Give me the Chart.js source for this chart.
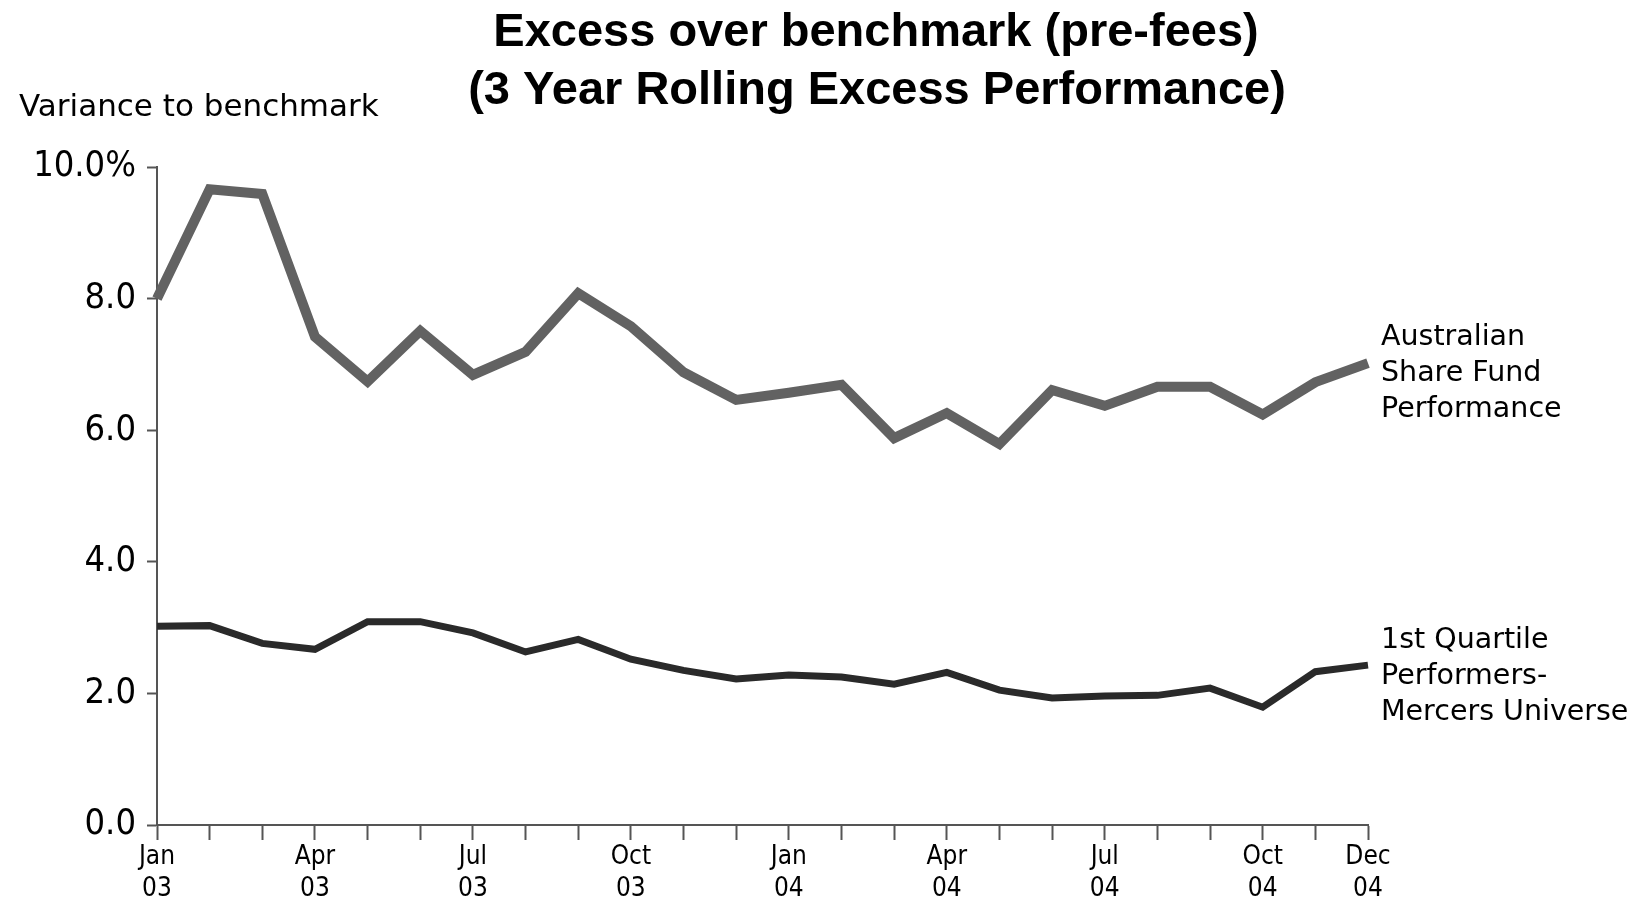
<!DOCTYPE html>
<html>
<head>
<meta charset="utf-8">
<title>Excess over benchmark</title>
<script src="https://cdn.jsdelivr.net/npm/chart.js@4.4.1/dist/chart.umd.min.js"></script>
<style>
    body { margin: 0; background: #fff; }
    canvas { display: block; }
</style>
</head>
<body>
<canvas id="myChart" width="1637" height="900"></canvas>
<script>
const months = ['Jan 03', 'Feb 03', 'Mar 03', 'Apr 03', 'May 03', 'Jun 03', 'Jul 03', 'Aug 03', 'Sep 03', 'Oct 03', 'Nov 03', 'Dec 03',
    'Jan 04', 'Feb 04', 'Mar 04', 'Apr 04', 'May 04', 'Jun 04', 'Jul 04', 'Aug 04', 'Sep 04', 'Oct 04', 'Nov 04', 'Dec 04']
const shownTicks = ['Jan 03', 'Apr 03', 'Jul 03', 'Oct 03', 'Jan 04', 'Apr 04', 'Jul 04', 'Oct 04', 'Dec 04']
const fundValues = [8.0, 9.66, 9.59, 7.42, 6.74, 7.51, 6.84, 7.19, 8.08, 7.58, 6.88, 6.46,
    6.57, 6.69, 5.88, 6.26, 5.79, 6.61, 6.37, 6.66, 6.66, 6.24, 6.73, 7.02]
const quartileValues = [3.02, 3.03, 2.76, 2.67, 3.09, 3.09, 2.92, 2.63, 2.82, 2.52, 2.35, 2.22,
    2.28, 2.25, 2.14, 2.32, 2.05, 1.93, 1.96, 1.97, 2.08, 1.79, 2.33, 2.43]
const seriesNames = [
    ['Australian', 'Share Fund', 'Performance'],
    ['1st Quartile', 'Performers-', 'Mercers Universe'],
]
const titleLines = ['Excess over benchmark (pre-fees)', '(3 Year Rolling Excess Performance)']
const yAxisTitle = 'Variance to benchmark'

const ctx = document.getElementById('myChart')

// titles and end-of-line labels
const textPlugin = {
    id: 'textPlugin',
    afterDraw: (chart) => {
        const c = chart.ctx
        c.save()
        c.fillStyle = '#000'
        c.textBaseline = 'middle'

        c.font = 'bold 47px "Liberation Sans", Arial, sans-serif'
        c.textAlign = 'center'
        c.fillText(titleLines[0], 876, 33)
        c.fillText(titleLines[1], 877, 91)

        c.font = '31px "DejaVu Sans", Verdana, sans-serif'
        c.textAlign = 'left'
        c.fillText(yAxisTitle, 19, 108)

        c.font = '28.5px "DejaVu Sans", Verdana, sans-serif'
        chart.data.datasets.forEach((ds, i) => {
            const pts = chart.getDatasetMeta(i).data
            const last = pts[pts.length - 1]
            seriesNames[i].forEach((line, j) => {
                c.fillText(line, last.x + 13, last.y + 11 + (j - 1) * 36)
            })
        })
        c.restore()
    }
}

const config = {
    type: 'line',
    data: {
        labels: months,
        datasets: [
            {
                label: seriesNames[0].join(' '),
                data: fundValues,
                borderColor: '#626262',
                borderWidth: 10,
                borderJoinStyle: 'miter',
                pointRadius: 0,
                tension: 0,
            },
            {
                label: seriesNames[1].join(' '),
                data: quartileValues,
                borderColor: '#2a2a2a',
                borderWidth: 7,
                borderJoinStyle: 'miter',
                pointRadius: 0,
                tension: 0,
            },
        ],
    },
    options: {
        responsive: false,
        animation: false,
        layout: {
            padding: { top: 167, right: 269, left: 0, bottom: 0 },
        },
        plugins: {
            legend: { display: false },
            title: { display: false },
            tooltip: { enabled: false },
        },
        scales: {
            x: {
                type: 'category',
                offset: false,
                afterFit: (scale) => { scale.height = 75 },
                grid: {
                    drawOnChartArea: false,
                    tickLength: 15,
                    tickWidth: 2,
                    color: '#555',
                },
                border: { color: '#555', width: 2 },
                ticks: {
                    autoSkip: false,
                    maxRotation: 0,
                    padding: 2,
                    color: '#000',
                    font: { family: '"DejaVu Sans Condensed", "DejaVu Sans", sans-serif', size: 26, lineHeight: 1.2 },
                    callback: (value, index) => shownTicks.includes(months[index]) ? months[index].split(' ') : '',
                },
            },
            y: {
                min: 0,
                max: 10,
                afterFit: (scale) => { scale.width = 157 },
                grid: {
                    drawOnChartArea: false,
                    tickLength: 10,
                    tickWidth: 2,
                    color: '#555',
                },
                border: { color: '#555', width: 2 },
                ticks: {
                    stepSize: 2,
                    padding: 11,
                    color: '#000',
                    font: { family: '"DejaVu Sans Condensed", "DejaVu Sans", sans-serif', size: 36 },
                    callback: (value) => value === 10 ? '10.0%' : value.toFixed(1),
                },
            },
        },
    },
    plugins: [textPlugin],
}

const myChart = new Chart(ctx, config)
</script>
</body>
</html>
